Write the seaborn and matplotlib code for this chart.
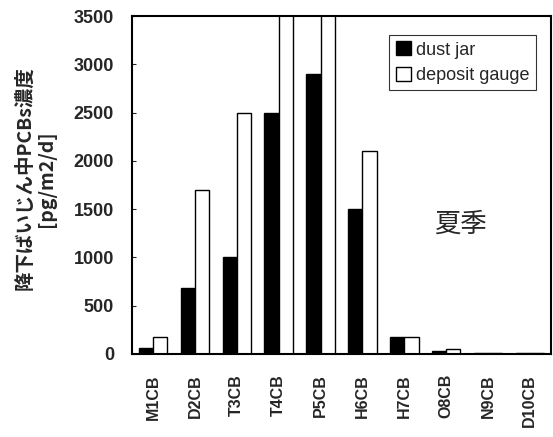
import matplotlib
matplotlib.use("Agg")
import matplotlib.pyplot as plt
import seaborn as sns
import pandas as pd

categories = ["M1CB", "D2CB", "T3CB", "T4CB", "P5CB", "H6CB", "H7CB", "O8CB", "N9CB", "D10CB"]
dust_jar = [60, 680, 1000, 2500, 2900, 1500, 180, 30, 5, 5]
deposit_gauge = [180, 1700, 2500, 3600, 3600, 2100, 180, 50, 5, 15]
series = ["dust jar", "deposit gauge"]
yticks = [0, 500, 1000, 1500, 2000, 2500, 3000, 3500]

df = pd.DataFrame({
    "cat": categories * 2,
    "val": dust_jar + deposit_gauge,
    "series": [series[0]] * len(categories) + [series[1]] * len(categories),
})

sns.set_style("white")
plt.rcParams['font.family'] = ['Liberation Sans', 'Noto Sans CJK JP', 'DejaVu Sans']

fig = plt.figure(figsize=(5.53, 4.37), dpi=100)
ax = fig.add_axes([0.239, 0.19, 0.757, 0.773])

sns.barplot(data=df, x="cat", y="val", hue="series", order=categories,
            hue_order=series, palette=["black", "white"], edgecolor="black",
            linewidth=1.0, width=0.68, ax=ax, errorbar=None, saturation=1)

ax.set_ylim(0, 3500)
ax.set_xlim(-0.5, 9.5)
ax.set_yticks(yticks)
ax.set_yticklabels([str(t) for t in yticks], fontsize=13, fontweight="bold")
ax.set_xticks(range(len(categories)))
ax.set_xticklabels(categories, rotation=90, fontsize=11.5, fontweight="bold")
ax.tick_params(axis="y", direction="in", length=3, left=True, pad=13)
ax.tick_params(axis="x", bottom=False, pad=11)
ax.set_xlabel("")
ax.set_ylabel("降下ばいじん中PCBs濃度\n[pg/m2/d]", fontsize=14, fontweight="bold",
              family=['Noto Sans CJK JP', 'DejaVu Sans'], linespacing=1.15)
ax.yaxis.set_label_coords(-0.182, 0.52)
for s in ax.spines.values():
    s.set_color("black")
    s.set_linewidth(1.5)

leg = ax.legend(loc="upper right", bbox_to_anchor=(0.965, 0.945), frameon=True,
                fancybox=False, edgecolor="black", fontsize=13,
                handlelength=0.85, handleheight=0.85, handletextpad=0.3,
                borderpad=0.35, labelspacing=0.45, borderaxespad=0)
leg.get_frame().set_linewidth(0.8)

ax.text(0.783, 0.385, "夏季", transform=ax.transAxes, fontsize=19,
        family=['Noto Sans CJK JP', 'DejaVu Sans'], ha="center", va="center")

fig.savefig("out.png", dpi=100)
